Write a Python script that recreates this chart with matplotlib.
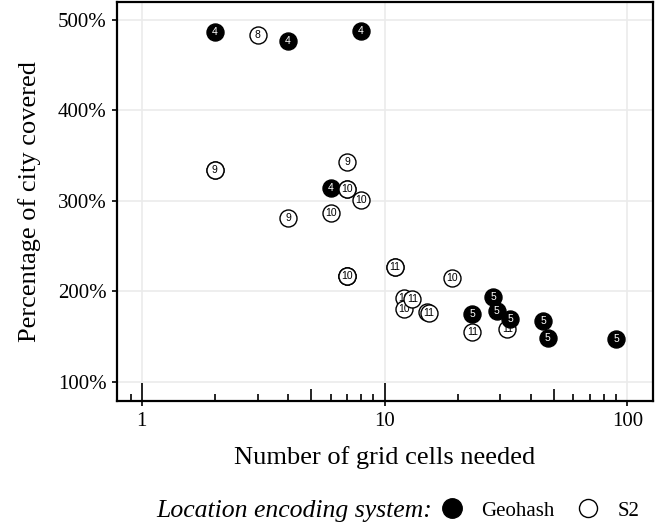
'''
Grid cells needed vs. share of city covered, Geohash vs S2.
'''

import numpy as np
import matplotlib
matplotlib.use("Agg")
import matplotlib.pyplot as plt
from matplotlib.lines import Line2D
from matplotlib.ticker import FixedLocator, FuncFormatter, NullLocator, PercentFormatter

# data
geohash_cells = [2, 4, 8, 6, 28, 23, 29, 33, 45, 47, 90]
geohash_cover = [486.4, 476.8, 487.8, 313.8, 193.3, 174.4, 178.4, 169.2, 167.4, 147.9, 146.8]
geohash_level = [4, 4, 4, 4, 5, 5, 5, 5, 5, 5, 5]

s2_cells = [3, 2, 2, 7, 4, 7, 7, 8, 6, 7, 7, 7, 19, 12, 12,
            11, 11, 13, 15, 15.2, 23, 32]
s2_cover = [483.7, 334.1, 334.1, 343.3, 281.3, 313.1, 313.1, 300.9, 286.8, 216.8, 216.8, 216.8, 214.6, 192.1, 180.0,
            227.1, 227.1, 191.0, 177.0, 176.0, 155.2, 158.2]
s2_level = [8, 9, 9, 9, 9, 10, 10, 10, 10, 10, 10, 10, 10, 10, 10,
            11, 11, 11, 11, 11, 11, 11]

x_ticks = [1, 10, 100]
y_ticks = [100, 200, 300, 400, 500]

serif = "Liberation Serif"
sans = "Liberation Sans"
plt.rcParams["font.family"] = serif

fig = plt.figure(figsize=(6.67, 5.29), dpi=100)
ax = fig.add_axes([0.1759, 0.2414, 0.8027, 0.7554])

ax.set_xscale("log")
ax.set_xlim(0.793, 127.2)
ax.set_ylim(78.3, 520.2)

# grid
ax.set_axisbelow(True)
ax.grid(True, which="major", color="#ebebeb", linewidth=1.2)
ax.xaxis.set_major_locator(FixedLocator(x_ticks))
ax.xaxis.set_minor_locator(NullLocator())
ax.xaxis.set_major_formatter(FuncFormatter(lambda v, p: "{:g}".format(v)))
ax.yaxis.set_major_locator(FixedLocator(y_ticks))
ax.yaxis.set_major_formatter(PercentFormatter(xmax=100, decimals=0))

for s in ax.spines.values():
    s.set_linewidth(1.6)
    s.set_color("black")
ax.tick_params(axis="both", which="major", direction="out", length=3.6, width=1.2,
               color="black", labelsize=15, pad=4)

# log ticks drawn inside the panel, ggplot annotation_logticks style
trans = ax.get_xaxis_transform()
for dec in [0.1, 1, 10]:
    for m in range(1, 10):
        v = m * dec
        if v < 0.85 or v > 120:
            continue
        if m == 1:
            h = 0.045
        elif m == 5:
            h = 0.030
        else:
            h = 0.0175
        ax.plot([v, v], [0, h], transform=trans, color="black", linewidth=1.2,
                solid_capstyle="butt", clip_on=False, zorder=1.5)

# points: geohash level 4 first, then S2, then geohash level 5
def draw(cells, cover, level, filled):
    for x, y, lv in zip(cells, cover, level):
        ax.scatter([x], [y], s=150, marker="o",
                   facecolor="black" if filled else "white",
                   edgecolor="black", linewidths=1.0, zorder=3)
        ax.text(x, y, str(lv), ha="center", va="center", fontsize=7.5,
                family=sans, color="white" if filled else "black", zorder=3)

gx = np.array(geohash_cells, dtype=float)
gy = np.array(geohash_cover)
gl = np.array(geohash_level)
draw(gx[gl == 4], gy[gl == 4], gl[gl == 4], True)
draw(s2_cells, s2_cover, s2_level, False)
draw(gx[gl == 5], gy[gl == 5], gl[gl == 5], True)

ax.set_xlabel("Number of grid cells needed", fontsize=19, labelpad=11)
ax.set_ylabel("Percentage of city covered", fontsize=19, labelpad=12)

# legend
fig.text(431.7 / 667, 1 - 517 / 529, "Location encoding system:", fontsize=18.5,
         style="italic", ha="right", va="baseline")
handles = [
    Line2D([], [], linestyle="none", marker="o", markersize=14,
           markerfacecolor="black", markeredgecolor="black", markeredgewidth=1.0),
    Line2D([], [], linestyle="none", marker="o", markersize=13,
           markerfacecolor="white", markeredgecolor="black", markeredgewidth=1.0),
]
fig.legend(handles, ["Geohash", "S2"], loc="center left",
           bbox_to_anchor=(441.3 / 667, 1 - 511 / 529), ncol=2, frameon=False,
           fontsize=15, handlelength=1.0, handletextpad=0.9, columnspacing=1.14,
           borderpad=0, borderaxespad=0)

plt.savefig("out.png", dpi=100)
